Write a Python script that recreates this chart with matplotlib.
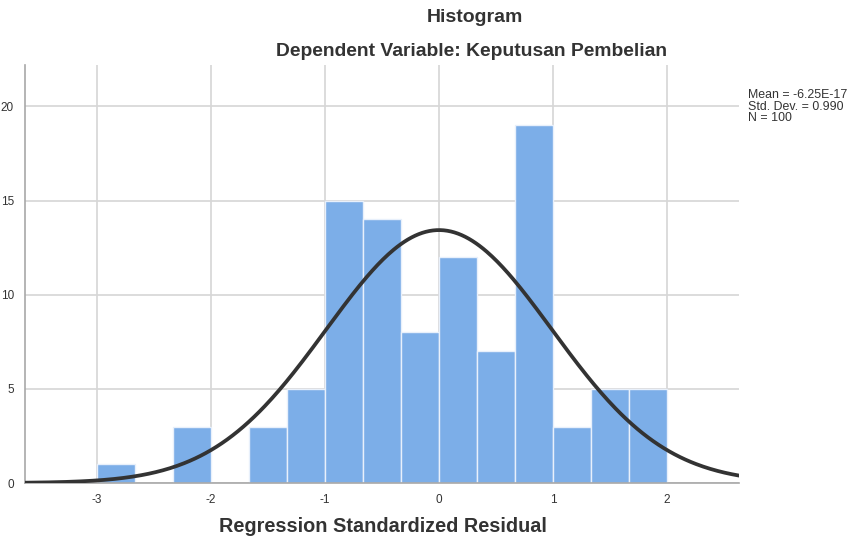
import numpy as np
import matplotlib
matplotlib.use("Agg")
import matplotlib.pyplot as plt

plt.rcParams['font.family'] = ['Liberation Sans', 'DejaVu Sans']

# Data
bin_edges = [-3.0, -2.6667, -2.3333, -2.0, -1.6667, -1.3333, -1.0, -0.6667,
             -0.3333, 0.0, 0.3333, 0.6667, 1.0, 1.3333, 1.6667, 2.0]
counts = [1, 0, 3, 0, 3, 5, 15, 14, 8, 12, 7, 19, 3, 5, 5]
mean = -6.25e-17
std = 0.990
n = 100
x_ticks = [-3, -2, -1, 0, 1, 2]
y_ticks = [0, 5, 10, 15, 20]

fig = plt.figure(figsize=(8.54, 5.40), dpi=100)
ax = fig.add_axes([25/854, 1-483/540, (739-25)/854, (483-65)/540])

ax.set_xlim(-3.63, 2.63)
ax.set_ylim(0, 22.2)
ax.set_axisbelow(True)
ax.grid(True, color='#d6d6d6', linewidth=1.2)

lefts = np.array(bin_edges[:-1])
widths = np.diff(bin_edges)
ax.bar(lefts, counts, width=widths, align='edge', color='#7caee8',
       edgecolor='#e8f0fb', linewidth=1.0, zorder=2)

xs = np.linspace(-3.63, 2.63, 400)
bw = widths.mean()
pdf = n * bw * np.exp(-0.5 * ((xs - mean) / std) ** 2) / (std * np.sqrt(2 * np.pi))
ax.plot(xs, pdf, color='#333333', linewidth=2.7, zorder=3, solid_capstyle='round')

ax.set_xticks(x_ticks)
ax.set_xticklabels([str(t) for t in x_ticks])
ax.set_yticks(y_ticks)
ax.tick_params(axis='both', length=0, labelsize=8.5, labelcolor='#333333')
ax.tick_params(axis='x', pad=8)
ax.tick_params(axis='y', pad=8)

for s in ['top', 'right']:
    ax.spines[s].set_visible(False)
for s in ['left', 'bottom']:
    ax.spines[s].set_color('#a8a8a8')
    ax.spines[s].set_linewidth(1.2)

fig.text(475/854, 1-18/540, 'Histogram', ha='center', va='center',
         fontsize=14, fontweight='bold', color='#333333')
fig.text(472/854, 1-51/540, 'Dependent Variable: Keputusan Pembelian', ha='center',
         va='center', fontsize=13.9, fontweight='bold', color='#333333')
fig.text(383/854, 1-527/540, 'Regression Standardized Residual', ha='center',
         va='center', fontsize=14.3, fontweight='bold', color='#333333')
fig.text(748/854, 1-89/540, 'Mean = -6.25E-17\nStd. Dev. = 0.990\nN = 100',
         ha='left', va='top', fontsize=8.9, color='#333333', linespacing=0.95)

fig.savefig('out.png', dpi=100)
